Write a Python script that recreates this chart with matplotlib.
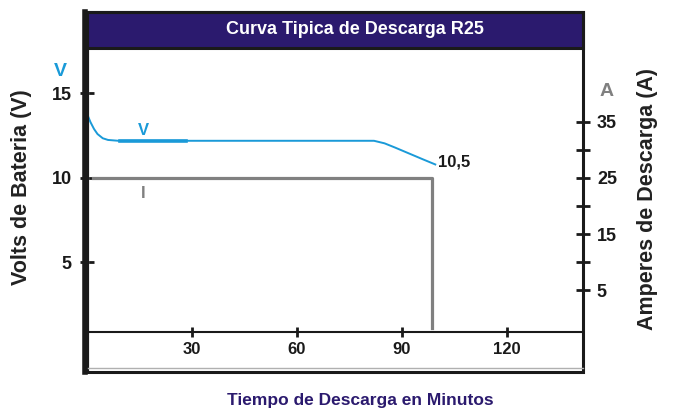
import numpy as np
import matplotlib.pyplot as plt
from matplotlib.patches import Rectangle

plt.rcParams['font.family'] = ['Liberation Sans', 'DejaVu Sans']
plt.rcParams['font.weight'] = 'bold'

# Datos
t_v = [0, 1, 2, 3, 4.5, 6, 9, 82, 85, 88, 92, 96, 99.5]
volts = [13.8, 13.3, 12.9, 12.6, 12.35, 12.25, 12.2, 12.2, 12.05, 11.8, 11.45, 11.1, 10.8]
t_marca = [9.4, 28.3]
v_marca = [12.2, 12.2]
t_i = [1.7, 98.6, 98.6]
amps = [25, 25, -1.8]

x_ticks = [30, 60, 90, 120]
v_ticks = [5, 10, 15]
a_major = [5, 15, 25, 35]
a_minor = [10, 20, 30]

# Colores
Azul = '#1a9ad8'
Gris = '#808080'
Indigo = '#2b1a6e'
Negro = '#1a1a1a'

fig = plt.figure(figsize=(6.73, 4.11), dpi=100)
ax = fig.add_axes([87/673, 1 - 372/411, 496/673, 360/411])
ax.set_xlim(0, 141.7)
ax.set_ylim(-1.48, 19.82)

for s in ['top', 'right', 'left']:
    ax.spines[s].set_visible(False)
ax.spines['bottom'].set_position(('data', 0.9))
ax.spines['bottom'].set_linewidth(1.5)
ax.spines['bottom'].set_color(Negro)

# Marco
ax.add_patch(Rectangle((0, 0), 1, 1, transform=ax.transAxes, fill=False,
                       lw=2.2, ec=Negro, clip_on=False, zorder=5))
ax.plot([-0.004, -0.004], [0, 1], transform=ax.transAxes, color=Negro, lw=4,
        clip_on=False, zorder=6)
ax.plot([0.003, 0.003], [0.005, 0.9], transform=ax.transAxes, color='#b0b0b0',
        lw=1, clip_on=False, zorder=2)
ax.plot([0.003, 1], [0.012, 0.012], transform=ax.transAxes, color='#b0b0b0',
        lw=1, clip_on=False, zorder=6)
ax.add_patch(Rectangle((0, 0.9), 1, 0.1, transform=ax.transAxes,
                       fc=Indigo, ec=Negro, lw=2.2, clip_on=False, zorder=4))
ax.text(0.54, 0.95, 'Curva Tipica de Descarga R25', transform=ax.transAxes,
        color='white', fontsize=13, ha='center', va='center', zorder=7)

# Curvas
ax.plot(t_v, volts, color=Azul, lw=1.4, zorder=3)
ax.plot(t_marca, v_marca, color=Azul, lw=2.6, zorder=3)

ax2 = ax.twinx()
ax2.set_ylim(-9.64, 54.64)
for s in ['top', 'right', 'left', 'bottom']:
    ax2.spines[s].set_visible(False)
ax2.plot(t_i, amps, color=Gris, lw=2.3, zorder=2)

# Ticks
ax.set_xticks(x_ticks)
ax.tick_params(axis='x', direction='inout', length=7, width=2, colors=Negro,
               labelsize=12, pad=4)
ax.set_yticks(v_ticks)
ax.tick_params(axis='y', direction='inout', length=10, width=2, colors=Negro,
               labelsize=13, pad=6)
ax2.set_yticks(a_major)
ax2.set_yticks(a_minor, minor=True)
ax2.tick_params(axis='y', which='both', direction='inout', length=10, width=2,
                colors=Negro, labelsize=13, pad=5)

# Textos
ax.text(143/673, 1 - 130/411, 'V', transform=fig.transFigure, color=Azul,
        fontsize=12, ha='center', va='center')
ax.text(143/673, 1 - 193/411, 'I', transform=fig.transFigure, color=Gris,
        fontsize=12, ha='center', va='center')
ax.text(100.3, 10.95, '10,5', color=Negro, fontsize=12, ha='left', va='center')
fig.text(60/673, 1 - 71/411, 'V', color=Azul, fontsize=14, ha='center', va='center')
fig.text(607/673, 1 - 91/411, 'A', color=Gris, fontsize=14, ha='center', va='center')
fig.text(22/673, 1 - 187/411, 'Volts de Bateria (V)', rotation=90, color='#222222',
         fontsize=15.5, ha='center', va='center')
fig.text(648/673, 1 - 199/411, 'Amperes de Descarga (A)', rotation=90, color='#222222',
         fontsize=15.5, ha='center', va='center')
fig.text(360/673, 1 - 400/411, 'Tiempo de Descarga en Minutos', color=Indigo,
         fontsize=12.5, ha='center', va='center')

fig.savefig('out.png', dpi=100)
